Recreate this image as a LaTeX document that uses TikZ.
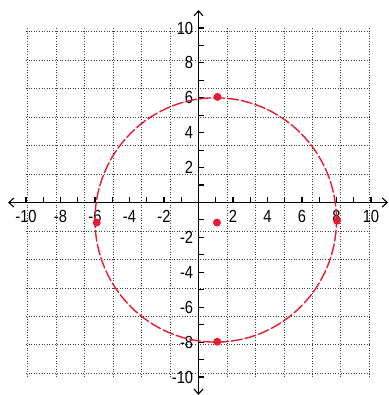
\documentclass[tikz,border=0pt]{standalone}
\usepackage{fontspec}
\setmainfont{Liberation Sans}
\usetikzlibrary{arrows.meta}
\definecolor{pen}{RGB}{232,28,48}
\begin{document}
\begin{tikzpicture}[x=17.25pt,y=17.45pt,
  gridline/.style={black!75, dotted, line width=0.6pt},
  axisline/.style={black, line width=1.1pt},
  lbl/.style={font=\fontsize{17.5}{17.5}\selectfont, inner sep=0pt, xscale=0.84},
  ptdot/.style={circle, fill=pen, inner sep=0pt, minimum size=8pt},
  curve/.style={pen, line width=1.4pt, dash pattern=on 11pt off 3pt, line cap=round}]
\useasboundingbox (-11.507,-11.032) rectangle (11.043,11.605);
\fill[white] (-11.507,-11.032) rectangle (11.043,11.605);
\draw[gridline] (-10,-10) grid (10,10);
\coordinate (xl) at (-11.04,0);
\coordinate (xr) at (10.99,0);
\coordinate (yb) at (0,-11.02);
\coordinate (yt) at (0,11.03);
\draw[axisline, {Straight Barb[length=5pt,width=9pt]}-{Straight Barb[length=5pt,width=9pt]}] (xl) -- (xr);
\draw[axisline, {Straight Barb[length=5pt,width=9pt]}-{Straight Barb[length=5pt,width=9pt]}] (yb) -- (yt);
\foreach \i in {-10,...,10} {
  \draw[axisline] (\i,0) -- (\i,0.3);
  \draw[axisline] (0,\i) -- (0.3,\i);
}
\foreach \i in {-10,-8,-6,-4,-2,2,4,6,8,10} {
  \node[lbl] (xlab\i) at (\i,-0.8) {\i};
  \node[lbl, anchor=east] (ylab\i) at (-0.3,\i) {\i};
}
\draw[curve] (1,-1) circle (7);
\node[ptdot] (ptop) at (1.1,6.05) {};
\node[ptdot] (pcen) at (1.07,-1.15) {};
\node[ptdot] (pleft) at (-5.9,-1.15) {};
\node[ptdot] (pright) at (8.03,-1.04) {};
\node[ptdot] (pbot) at (1.09,-7.98) {};
\end{tikzpicture}
\end{document}
